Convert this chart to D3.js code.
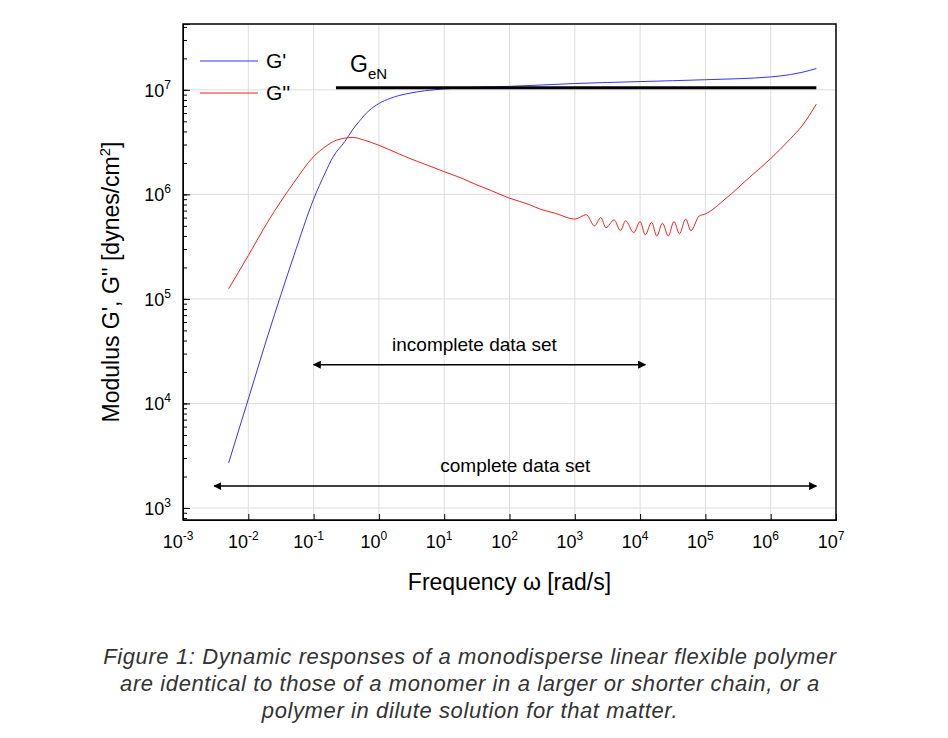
<!DOCTYPE html>
<html><head><meta charset="utf-8">
<script src="https://d3js.org/d3.v7.min.js"></script>
<style>body{margin:0;background:#fff;font-family:"Liberation Sans",Arial,sans-serif}</style>
</head><body><svg id="c" width="948" height="738"></svg>
<script>
// G' storage modulus
var gpFreq = [0.005, 0.01, 0.02, 0.05, 0.1, 0.15, 0.2, 0.3, 0.4, 0.5, 0.7, 1, 1.5, 2, 3, 5, 10, 30, 100, 1000, 1e4, 1e5, 1e6, 2e6, 3e6, 5e6];
var gpVal  = [2.7e3, 1.1e4, 4.5e4, 2.6e5, 9e5, 1.6e6, 2.3e6, 3.2e6, 4.2e6, 5.0e6, 6.3e6, 7.4e6, 8.3e6, 8.8e6, 9.3e6, 9.8e6, 1.02e7, 1.06e7, 1.08e7, 1.15e7, 1.2e7, 1.25e7, 1.33e7, 1.4e7, 1.47e7, 1.6e7];
// G'' loss modulus (noisy between 1e3 and 6e4)
var gppFreq = [0.005, 0.01, 0.02, 0.05, 0.1, 0.15, 0.2, 0.3, 0.4, 0.6, 1, 2, 3, 5, 10, 20, 30, 50, 100, 200, 300, 500, 1000, 1500, 2000, 2500, 3000, 4000, 5000, 6000, 8000, 10000, 12000, 15000, 18000, 22000, 27000, 33000, 40000, 50000, 60000, 80000, 1e5, 2e5, 5e5, 1e6, 2e6, 3e6, 5e6];
var gppVal  = [1.25e5, 2.6e5, 5.5e5, 1.3e6, 2.3e6, 2.85e6, 3.2e6, 3.45e6, 3.5e6, 3.3e6, 2.95e6, 2.45e6, 2.2e6, 1.95e6, 1.65e6, 1.4e6, 1.25e6, 1.1e6, 9.2e5, 8.0e5, 7.2e5, 6.6e5, 5.8e5, 6.4e5, 5.0e5, 6.0e5, 4.8e5, 5.7e5, 4.5e5, 5.6e5, 4.3e5, 5.5e5, 4.1e5, 5.4e5, 4.0e5, 5.3e5, 4.0e5, 5.5e5, 4.2e5, 5.8e5, 4.5e5, 6.2e5, 6.5e5, 9e5, 1.5e6, 2.2e6, 3.4e6, 4.5e6, 7.3e6];
var geN = {from: 0.22, to: 5e6, value: 1.05e7};
var arrows = [
  {label: "incomplete data set", from: 0.1, to: 1.2e4, value: 2.35e4},
  {label: "complete data set", from: 0.003, to: 5e6, value: 1.62e3}
];
var xDecades = [-3, -2, -1, 0, 1, 2, 3, 4, 5, 6, 7];
var yDecades = [3, 4, 5, 6, 7];
var caption = ["Figure 1: Dynamic responses of a monodisperse linear flexible polymer",
  "are identical to those of a monomer in a larger or shorter chain, or a",
  "polymer in dilute solution for that matter."];

var L = 183, R = 836, T = 24, B = 520;
var svg = d3.select("#c");
var x = d3.scaleLog().domain([1e-3, 1e7]).range([L, R]);
var y = d3.scaleLog().domain([Math.pow(10, 2.885), Math.pow(10, 7.63)]).range([B, T]);

svg.append("defs").append("marker").attr("id", "ah").attr("viewBox", "0 0 10 10")
  .attr("refX", 9).attr("refY", 5).attr("markerWidth", 8).attr("markerHeight", 8)
  .attr("markerUnits", "userSpaceOnUse").attr("orient", "auto-start-reverse")
  .append("path").attr("d", "M0,0L10,5L0,10z").attr("fill", "#000");

var g = svg.append("g");
// grid
g.selectAll(".gx").data(xDecades.slice(1, -1)).enter().append("line")
  .attr("x1", function (d) { return x(Math.pow(10, d)); }).attr("x2", function (d) { return x(Math.pow(10, d)); })
  .attr("y1", T).attr("y2", B).attr("stroke", "#ddd");
g.selectAll(".gy").data(yDecades).enter().append("line")
  .attr("y1", function (d) { return y(Math.pow(10, d)); }).attr("y2", function (d) { return y(Math.pow(10, d)); })
  .attr("x1", L).attr("x2", R).attr("stroke", "#ddd");

// axes with inward ticks
g.append("g").attr("transform", "translate(0," + B + ")")
  .call(d3.axisBottom(x).tickValues(xDecades.map(function (d) { return Math.pow(10, d); })).tickSize(-6).tickFormat(""));
g.append("g").attr("transform", "translate(" + L + ",0)")
  .call(d3.axisLeft(y).tickValues(yDecades.map(function (d) { return Math.pow(10, d); })).tickSize(-7).tickFormat(""));
g.append("g").attr("transform", "translate(" + L + ",0)")
  .call(d3.axisLeft(y).tickValues(y.ticks()).tickSize(-4).tickFormat(""))
  .select(".domain").remove();
g.append("rect").attr("x", L).attr("y", T).attr("width", R - L).attr("height", B - T)
  .attr("fill", "none").attr("stroke", "#000").attr("stroke-width", 1.5);

// tick labels
xDecades.forEach(function (d) {
  var t = g.append("text").attr("x", x(Math.pow(10, d)) - 5).attr("y", B + 28).attr("text-anchor", "middle").attr("font-size", 18);
  t.append("tspan").text("10");
  t.append("tspan").attr("dy", -8).attr("font-size", 12).text(d);
});
yDecades.forEach(function (d) {
  var t = g.append("text").attr("x", L - 12).attr("y", y(Math.pow(10, d)) + 7).attr("text-anchor", "end").attr("font-size", 18);
  t.append("tspan").text("10");
  t.append("tspan").attr("dy", -8).attr("font-size", 12).text(d);
});

// axis titles
svg.append("text").attr("x", (L + R) / 2).attr("y", 590).attr("text-anchor", "middle").attr("font-size", 23)
  .text("Frequency \u03c9 [rad/s]");
var yt = svg.append("text").attr("transform", "translate(119," + ((T + B) / 2 + 10) + ") rotate(-90)")
  .attr("text-anchor", "middle").attr("font-size", 23);
yt.append("tspan").text("Modulus G', G'' [dynes/cm");
yt.append("tspan").attr("dy", -9).attr("font-size", 15).text("2");
yt.append("tspan").attr("dy", 9).text("]");

// curves
var line = d3.line().x(function (d) { return x(d[0]); }).y(function (d) { return y(d[1]); }).curve(d3.curveMonotoneX);
g.append("path").datum(d3.zip(gpFreq, gpVal)).attr("d", line).attr("fill", "none").attr("stroke", "#3333ff").attr("stroke-width", 1);
g.append("path").datum(d3.zip(gppFreq, gppVal)).attr("d", line)
  .attr("fill", "none").attr("stroke", "#ee2222").attr("stroke-width", 1);

// GeN line
g.append("line").attr("x1", x(geN.from)).attr("x2", x(geN.to)).attr("y1", y(geN.value)).attr("y2", y(geN.value))
  .attr("stroke", "#000").attr("stroke-width", 3);
var gt = g.append("text").attr("x", 350).attr("y", 72).attr("font-size", 23);
gt.append("tspan").text("G");
gt.append("tspan").attr("dy", 7).attr("font-size", 15).text("eN");

// arrows
arrows.forEach(function (a) {
  var yy = y(a.value);
  g.append("line").attr("x1", x(a.from)).attr("x2", x(a.to)).attr("y1", yy).attr("y2", yy)
    .attr("stroke", "#000").attr("stroke-width", 1.5)
    .attr("marker-start", "url(#ah)").attr("marker-end", "url(#ah)");
  g.append("text").attr("x", (x(a.from) + x(a.to)) / 2 + (a.from > 0.01 ? -5 : 0)).attr("y", yy - 14)
    .attr("text-anchor", "middle").attr("font-size", 19).text(a.label);
});

// legend
[["G'", "#3333ff", 61], ["G''", "#ee2222", 93]].forEach(function (l) {
  g.append("line").attr("x1", 200).attr("x2", 258).attr("y1", l[2]).attr("y2", l[2]).attr("stroke", l[1]);
  g.append("text").attr("x", 266).attr("y", l[2] + 7).attr("font-size", 21).text(l[0]);
});

// caption
caption.forEach(function (c, i) {
  svg.append("text").attr("x", 470).attr("y", 664 + i * 27).attr("text-anchor", "middle")
    .attr("font-size", 22).attr("font-style", "italic").attr("fill", "#333")
    .attr("letter-spacing", 0.6).text(c);
});
</script></body></html>
